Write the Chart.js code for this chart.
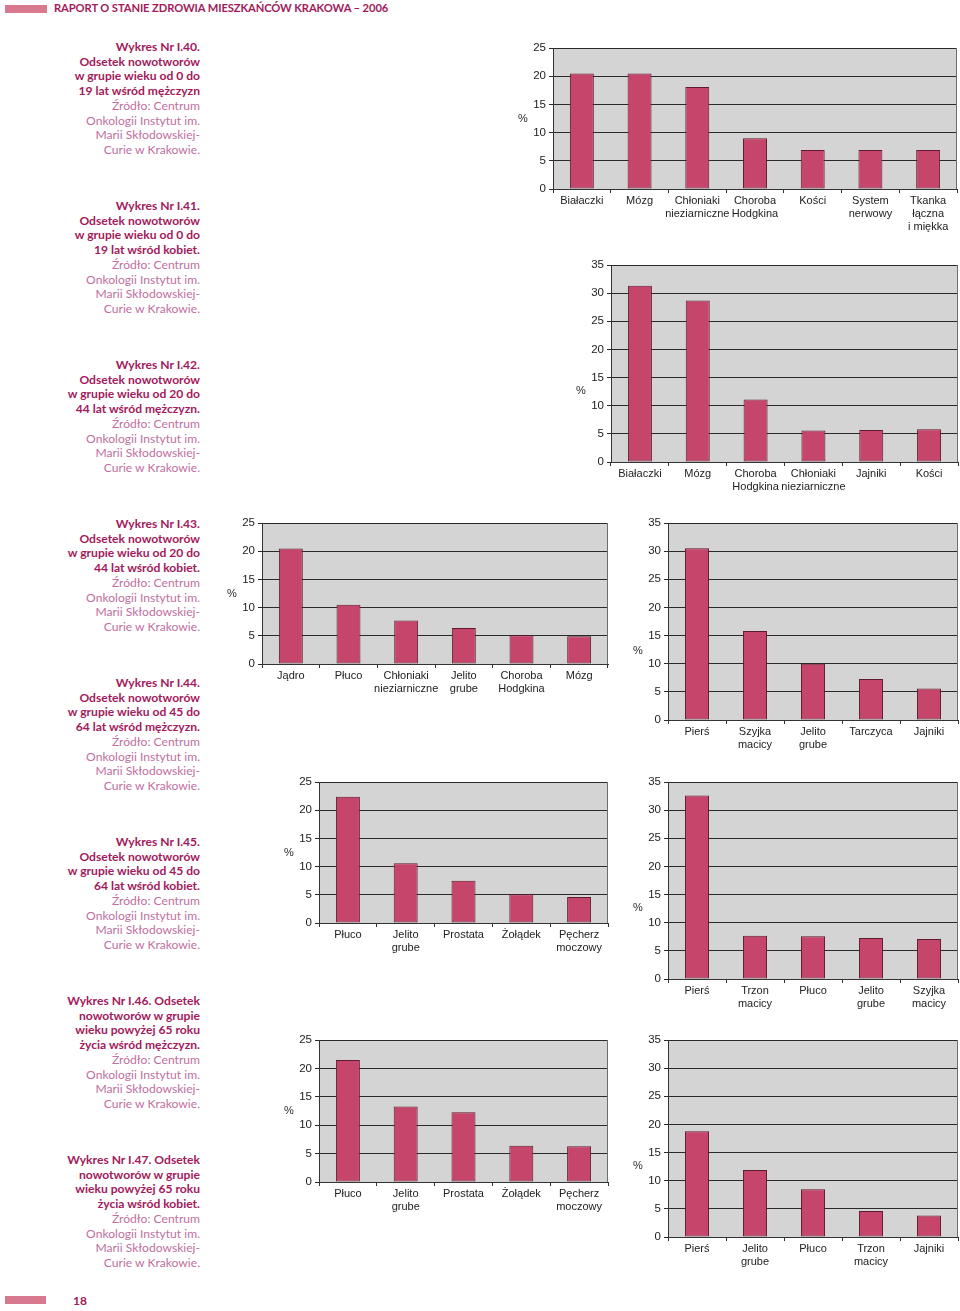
<!DOCTYPE html>
<html lang="pl">
<head>
<meta charset="utf-8">
<title>Raport o stanie zdrowia mieszkańców Krakowa – 2006</title>
<script src="https://cdn.jsdelivr.net/npm/chart.js@4.4.1/dist/chart.umd.min.js"></script>
<style>
  html, body { margin: 0; padding: 0; background: #fff; }
  body { width: 960px; height: 1311px; position: relative; overflow: hidden; font-family: Lato, "Open Sans", sans-serif; }
  .hdr-bar { position: absolute; background: #d9798f; height: 8px; }
  .hdr-text { position: absolute; left: 54px; top: 1px; font-size: 11.2px; font-weight: 700; color: #a3195b; letter-spacing: -0.1px; }
  .page-no { position: absolute; left: 73px; top: 1293px; font-size: 12px; font-weight: 700; color: #a3195b; }
  .cap { position: absolute; width: 200px; left: 0; text-align: right; font-size: 12.1px; line-height: 14.7px; }
  .cap b { color: #a3195b; font-weight: 700; display: block; }
  .cap span { color: #c06fa0; display: block; }
  .box { position: absolute; }
</style>
</head>
<body>
<div class="hdr-bar" style="left:5px;top:5px;width:42px;"></div>
<div class="hdr-text">RAPORT O STANIE ZDROWIA MIESZKAŃCÓW KRAKOWA – 2006</div>
<div class="hdr-bar" style="left:5px;top:1296px;width:41px;"></div>
<div class="page-no">18</div>
<div id="captions"></div>
<div id="charts"></div>
<script>
// ===== dane =====
const cat40 = ["Białaczki", "Mózg", ["Chłoniaki", "nieziarniczne"], ["Choroba", "Hodgkina"], "Kości", ["System", "nerwowy"], ["Tkanka", "łączna", "i miękka"]];
const val40 = [20.5, 20.5, 18.1, 9.0, 6.9, 6.9, 6.9];

const cat41 = ["Białaczki", "Mózg", ["Choroba", "Hodgkina"], ["Chłoniaki", "nieziarniczne"], "Jajniki", "Kości"];
const val41 = [31.3, 28.7, 11.1, 5.6, 5.7, 5.8];

const cat42 = ["Jądro", "Płuco", ["Chłoniaki", "nieziarniczne"], ["Jelito", "grube"], ["Choroba", "Hodgkina"], "Mózg"];
const val42 = [20.5, 10.5, 7.7, 6.4, 5.1, 4.9];

const cat43 = ["Pierś", ["Szyjka", "macicy"], ["Jelito", "grube"], "Tarczyca", "Jajniki"];
const val43 = [30.5, 15.8, 10.0, 7.3, 5.6];

const cat44 = ["Płuco", ["Jelito", "grube"], "Prostata", "Żołądek", ["Pęcherz", "moczowy"]];
const val44 = [22.4, 10.6, 7.5, 5.1, 4.6];

const cat45 = ["Pierś", ["Trzon", "macicy"], "Płuco", ["Jelito", "grube"], ["Szyjka", "macicy"]];
const val45 = [32.6, 7.7, 7.6, 7.3, 7.1];

const cat46 = ["Płuco", ["Jelito", "grube"], "Prostata", "Żołądek", ["Pęcherz", "moczowy"]];
const val46 = [21.5, 13.3, 12.3, 6.4, 6.3];

const cat47 = ["Pierś", ["Jelito", "grube"], "Płuco", ["Trzon", "macicy"], "Jajniki"];
const val47 = [18.8, 11.9, 8.5, 4.6, 3.8];

const yTicks25 = [0, 5, 10, 15, 20, 25];
const yTicks35 = [0, 5, 10, 15, 20, 25, 30, 35];

// podpisy wykresów
const captionTitles = [
  ["Wykres Nr I.40.", "Odsetek nowotworów", "w grupie wieku od 0 do", "19 lat wśród mężczyzn"],
  ["Wykres Nr I.41.", "Odsetek nowotworów", "w grupie wieku od 0 do", "19 lat wśród kobiet."],
  ["Wykres Nr I.42.", "Odsetek nowotworów", "w grupie wieku od 20 do", "44 lat wśród mężczyzn."],
  ["Wykres Nr I.43.", "Odsetek nowotworów", "w grupie wieku od 20 do", "44 lat wśród kobiet."],
  ["Wykres Nr I.44.", "Odsetek nowotworów", "w grupie wieku od 45 do", "64 lat wśród mężczyzn."],
  ["Wykres Nr I.45.", "Odsetek nowotworów", "w grupie wieku od 45 do", "64 lat wśród kobiet."],
  ["Wykres Nr I.46. Odsetek", "nowotworów w grupie", "wieku powyżej 65 roku", "życia wśród mężczyzn."],
  ["Wykres Nr I.47. Odsetek", "nowotworów w grupie", "wieku powyżej 65 roku", "życia wśród kobiet."],
];
const sourceLines = ["Źródło: Centrum", "Onkologii Instytut im.", "Marii Skłodowskiej-", "Curie w Krakowie."];

// ===== rozmieszczenie =====
const AXIS_W = 70, AXIS_H = 60, PAD_T = 10, PAD_R = 3;
const chartDefs = [
  { cats: cat40, vals: val40, ticks: yTicks25, l: 553, r: 957, t: 48,   b: 189,  pct: 0 },
  { cats: cat41, vals: val41, ticks: yTicks35, l: 611, r: 958, t: 265,  b: 462,  pct: 27 },
  { cats: cat42, vals: val42, ticks: yTicks25, l: 262, r: 608, t: 523,  b: 664,  pct: 0 },
  { cats: cat43, vals: val43, ticks: yTicks35, l: 668, r: 958, t: 523,  b: 720,  pct: 29 },
  { cats: cat44, vals: val44, ticks: yTicks25, l: 319, r: 608, t: 782,  b: 923,  pct: 0 },
  { cats: cat45, vals: val45, ticks: yTicks35, l: 668, r: 958, t: 782,  b: 979,  pct: 27 },
  { cats: cat46, vals: val46, ticks: yTicks25, l: 319, r: 608, t: 1040, b: 1182, pct: 0 },
  { cats: cat47, vals: val47, ticks: yTicks35, l: 668, r: 958, t: 1040, b: 1237, pct: 27 },
];

// szare tło pola wykresu, ramka i znak %
const plotFrame = {
  id: "plotFrame",
  beforeDraw(chart) {
    const a = chart.chartArea, ctx = chart.ctx;
    ctx.save();
    ctx.fillStyle = "#d4d4d4";
    ctx.fillRect(a.left, a.top, a.right - a.left, a.bottom - a.top);
    ctx.restore();
  },
  afterDraw(chart, args, opts) {
    const a = chart.chartArea, ctx = chart.ctx;
    ctx.save();
    ctx.strokeStyle = "#6e6e6e";
    ctx.lineWidth = 1;
    ctx.beginPath();
    ctx.moveTo(a.right - 0.5, a.top);
    ctx.lineTo(a.right - 0.5, a.bottom);
    ctx.stroke();
    ctx.fillStyle = "#2a2a2a";
    ctx.font = "11px 'Liberation Sans', Arial, sans-serif";
    ctx.textAlign = "center";
    ctx.textBaseline = "middle";
    ctx.fillText("%", a.left - 30, (a.top + a.bottom) / 2 + (opts.shift || 0));
    ctx.restore();
  },
};

function buildCaptions() {
  const host = document.getElementById("captions");
  captionTitles.forEach((lines, i) => {
    const div = document.createElement("div");
    div.className = "cap";
    div.style.top = (40 + i * 159) + "px";
    div.innerHTML = lines.map(s => `<b>${s}</b>`).join("") + sourceLines.map(s => `<span>${s}</span>`).join("");
    host.appendChild(div);
  });
}

function buildChart(def) {
  const host = document.getElementById("charts");
  const box = document.createElement("div");
  box.className = "box";
  box.style.left = (def.l - AXIS_W) + "px";
  box.style.top = (def.t - PAD_T) + "px";
  box.style.width = (def.r - def.l + AXIS_W + PAD_R) + "px";
  box.style.height = (def.b - def.t + PAD_T + AXIS_H) + "px";
  const canvas = document.createElement("canvas");
  box.appendChild(canvas);
  host.appendChild(box);

  const max = def.ticks[def.ticks.length - 1];
  new Chart(canvas, {
    type: "bar",
    data: {
      labels: def.cats,
      datasets: [{
        data: def.vals,
        backgroundColor: "#c5456b",
        borderColor: "#5e1a2e",
        borderWidth: 1,
        borderSkipped: false,
        barPercentage: 0.415,
        categoryPercentage: 1,
      }],
    },
    options: {
      animation: false,
      responsive: true,
      maintainAspectRatio: false,
      devicePixelRatio: 1,
      layout: { autoPadding: false, padding: { top: PAD_T, right: PAD_R, left: 0, bottom: 0 } },
      plugins: { legend: { display: false }, tooltip: { enabled: false }, plotFrame: { shift: def.pct } },
      scales: {
        x: {
          afterFit(axis) { axis.height = AXIS_H; },
          grid: { offset: true, drawOnChartArea: false, drawTicks: true, tickLength: 4, color: "#333" },
          border: { display: true, color: "#333" },
          ticks: {
            color: "#222",
            padding: 1,
            maxRotation: 0,
            autoSkip: false,
            font: { size: 11, family: "'Liberation Sans', Arial, sans-serif", lineHeight: 1.2 },
          },
        },
        y: {
          min: 0,
          max: max,
          afterFit(axis) { axis.width = AXIS_W; },
          afterBuildTicks(axis) { axis.ticks = def.ticks.map(v => ({ value: v })); },
          grid: { color: "#2a2a2a", lineWidth: 1, drawTicks: true, tickLength: 4 },
          border: { display: true, color: "#333" },
          ticks: {
            color: "#222",
            padding: 3,
            font: { size: 11.5, family: "'Liberation Sans', Arial, sans-serif" },
          },
        },
      },
    },
    plugins: [plotFrame],
  });
}

buildCaptions();
chartDefs.forEach(buildChart);
</script>
</body>
</html>
